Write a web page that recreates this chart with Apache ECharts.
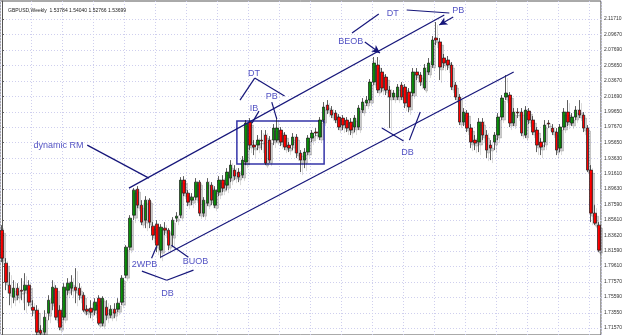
<!DOCTYPE html>
<html><head><meta charset="utf-8">
<script src="https://cdn.jsdelivr.net/npm/echarts@6/dist/echarts.min.js"></script>
<style>html,body{margin:0;padding:0;background:#fff;overflow:hidden}#c{width:625px;height:335px}</style>
</head><body><div id="c"></div>
<script>
const chartTitle = 'GBPUSD,Weekly  1.53784 1.54040 1.52766 1.53699';
const yTickLabels = ['2.11710','2.09670','2.07690','2.05650','2.03670','2.01690','1.99650','1.97670','1.95650','1.93630','1.91610','1.89630','1.87590','1.85610','1.83620','1.81590','1.79610','1.77570','1.75590','1.73550','1.71570'];
// weekly candles: [open, close, low, high]
const ohlc = [
[1.8428,1.8064,1.8012,1.8493],[1.7999,1.7752,1.7648,1.8064],[1.7713,1.7609,1.7453,1.7882],[1.7557,1.7674,1.7479,1.7778],
[1.7674,1.7583,1.7518,1.7739],[1.7648,1.7635,1.7518,1.7804],[1.7648,1.7713,1.7388,1.7869],[1.7713,1.7492,1.7440,1.7778],
[1.7427,1.7388,1.7310,1.7518],[1.7388,1.7102,1.7063,1.7453],[1.7128,1.7089,1.7050,1.7193],[1.7102,1.7297,1.7050,1.7388],
[1.7349,1.7518,1.7258,1.7583],[1.7479,1.7687,1.7388,1.7778],[1.7674,1.7297,1.7258,1.7713],[1.7388,1.7167,1.7128,1.7453],
[1.7297,1.7687,1.7258,1.7739],[1.7648,1.7739,1.7583,1.7804],[1.7674,1.7752,1.7583,1.7843],[1.7687,1.7648,1.7479,1.7934],
[1.7674,1.7583,1.7518,1.7739],[1.7583,1.7388,1.7362,1.7622],[1.7401,1.7375,1.7323,1.7453],[1.7414,1.7362,1.7284,1.7518],
[1.7388,1.7492,1.7323,1.7544],[1.7544,1.7219,1.7193,1.7583],[1.7219,1.7544,1.7180,1.7570],[1.7427,1.7323,1.7258,1.7518],
[1.7323,1.7401,1.7284,1.7453],[1.7401,1.7349,1.7284,1.7479],[1.7401,1.7479,1.7362,1.7544],[1.7492,1.7804,1.7453,1.7843],
[1.7843,1.8207,1.7804,1.8233],[1.8207,1.8584,1.8168,1.8623],[1.8623,1.8948,1.8558,1.8974],[1.8961,1.8753,1.8714,1.9000],
[1.8753,1.8532,1.8493,1.8818],[1.8558,1.8818,1.8454,1.8870],[1.8818,1.8532,1.8454,1.8844],[1.8480,1.8363,1.8298,1.8532],
[1.8506,1.8233,1.8142,1.8558],[1.8168,1.8467,1.8064,1.8506],[1.8454,1.8428,1.8363,1.8532],[1.8428,1.8233,1.8168,1.8454],
[1.8363,1.8558,1.8207,1.8597],[1.8584,1.8610,1.8532,1.8662],[1.8623,1.9078,1.8584,1.9117],[1.9078,1.8909,1.8870,1.9130],
[1.8909,1.8792,1.8740,1.8948],[1.8818,1.8857,1.8753,1.8909],[1.8857,1.9052,1.8818,1.9104],[1.9052,1.8649,1.8610,1.9078],
[1.8649,1.8818,1.8597,1.8857],[1.8779,1.9052,1.8740,1.9104],[1.9013,1.8818,1.8753,1.9052],[1.8753,1.8948,1.8714,1.9000],
[1.8922,1.9078,1.8870,1.9130],[1.9078,1.8974,1.8922,1.9143],[1.9013,1.9182,1.8948,1.9234],[1.9104,1.9273,1.9052,1.9338],
[1.9208,1.9130,1.9078,1.9273],[1.9182,1.9117,1.9052,1.9234],[1.9143,1.9338,1.9104,1.9390],[1.9312,1.9819,1.9273,1.9858],
[1.9832,1.9533,1.9468,1.9884],[1.9533,1.9507,1.9403,1.9598],[1.9533,1.9598,1.9468,1.9663],[1.9598,1.9585,1.9468,1.9728],
[1.9663,1.9299,1.9273,1.9728],[1.9598,1.9338,1.9299,1.9650],[1.9598,1.9754,1.9533,1.9806],[1.9598,1.9754,1.9572,1.9897],
[1.9728,1.9572,1.9520,1.9767],[1.9663,1.9507,1.9468,1.9702],[1.9533,1.9494,1.9442,1.9572],[1.9533,1.9637,1.9468,1.9689],
[1.9637,1.9429,1.9364,1.9676],[1.9429,1.9338,1.9182,1.9468],[1.9338,1.9442,1.9234,1.9494],[1.9442,1.9624,1.9403,1.9663],
[1.9624,1.9689,1.9572,1.9728],[1.9702,1.9689,1.9650,1.9754],[1.9637,1.9858,1.9598,1.9897],[1.9858,2.0027,1.9819,2.0092],
[2.0053,1.9988,1.9936,2.0118],[1.9988,1.9923,1.9884,2.0040],[1.9949,1.9858,1.9819,1.9988],[1.9897,1.9767,1.9728,1.9936],
[1.9884,1.9793,1.9728,1.9923],[1.9858,1.9754,1.9702,1.9897],[1.9832,1.9728,1.9663,1.9884],[1.9767,1.9884,1.9702,1.9923],
[1.9767,2.0014,1.9728,2.0053],[1.9988,2.0092,1.9949,2.0144],[2.0079,2.0118,2.0040,2.0170],[2.0118,2.0352,2.0079,2.0391],
[2.0352,2.0599,2.0313,2.0677],[2.0573,2.0248,2.0209,2.0677],[2.0482,2.0274,2.0222,2.0534],[2.0417,2.0248,2.0183,2.0456],
[2.0248,2.0157,1.9754,2.0300],[2.0157,2.0209,2.0118,2.0248],[2.0157,2.0287,2.0118,2.0326],[2.0313,2.0157,2.0118,2.0352],
[2.0287,2.0079,2.0014,2.0326],[2.0222,2.0027,1.9962,2.0274],[2.0209,2.0482,2.0170,2.0534],[2.0482,2.0443,2.0378,2.0534],
[2.0443,2.0352,2.0300,2.0482],[2.0274,2.0534,2.0248,2.0586],[2.0482,2.0599,2.0443,2.0664],[2.0573,2.0898,2.0534,2.0950],
[2.0924,2.0898,2.0833,2.1132],[2.0872,2.0547,2.0378,2.0924],[2.0664,2.0599,2.0534,2.0716],[2.0638,2.0573,2.0508,2.0690],
[2.0573,2.0287,2.0248,2.0612],[2.0313,2.0157,2.0118,2.0352],[2.0157,1.9832,1.9793,2.0196],[1.9832,1.9962,1.9780,2.0014],
[1.9949,1.9754,1.9702,1.9988],[1.9754,1.9572,1.9494,1.9806],[1.9598,1.9559,1.9468,1.9663],[1.9572,1.9832,1.9442,1.9884],
[1.9832,1.9663,1.9598,1.9884],[1.9663,1.9468,1.9364,1.9728],[1.9533,1.9494,1.9338,1.9598],[1.9572,1.9663,1.9468,1.9702],
[1.9663,1.9897,1.9598,1.9949],[1.9897,2.0144,1.9858,2.0183],[2.0157,2.0209,2.0118,2.0443],[2.0183,1.9819,1.9767,2.0222],
[1.9819,1.9962,1.9780,2.0014],[1.9962,1.9949,1.9884,2.0014],[1.9962,1.9689,1.9650,2.0014],[1.9663,1.9988,1.9624,2.0040],
[1.9975,1.9858,1.9806,2.0014],[1.9858,1.9702,1.9663,1.9910],[1.9728,1.9533,1.9442,1.9767],[1.9572,1.9507,1.9403,1.9624],
[1.9572,1.9793,1.9507,1.9858],[1.9819,1.9806,1.9754,1.9858],[1.9754,1.9702,1.9663,1.9806],[1.9702,1.9468,1.9403,1.9754],
[1.9494,1.9767,1.9442,1.9806],[1.9767,1.9962,1.9728,2.0014],[1.9962,1.9832,1.9780,2.0118],[1.9819,1.9897,1.9780,1.9949],
[1.9897,1.9988,1.9858,2.0040],[1.9988,1.9923,1.9884,2.0118],[1.9923,1.9754,1.9702,1.9962],[1.9754,1.9208,1.9182,1.9793],
[1.9208,1.8649,1.8532,1.9273],[1.8649,1.8519,1.8493,1.8753],[1.8493,1.8168,1.8142,1.8532]
];
// weekly category labels (first bar: week of 2005-09-11)
const categories = [];
{ const d0 = Date.UTC(2005, 8, 11); for (let i = 0; i < ohlc.length; i++) categories.push(new Date(d0 + i * 7 * 864e5).toISOString().slice(0, 10)); }

// annotation geometry in data space: [barIndex, price]
const annoLines = [
  [[32.75, 1.8974], [114.1, 2.1223]],   // upper channel
  [[40.9, 1.8077], [132.0, 2.0482]],    // lower channel
  [[22.0, 1.9533], [37.9, 1.9104]],     // dynamic RM pointer
  [[61.4, 2.0118], [65.2, 2.0404]],     // DT left leg
  [[65.2, 2.0404], [72.9, 2.0170]],     // DT right leg
  [[66.3, 1.9975], [64.5, 1.9819]],     // IB pointer
  [[69.6, 2.0092], [70.9, 1.9871]],     // PB pointer
  [[90.3, 2.0989], [97.2, 2.1236]],     // DT top left
  [[104.4, 2.1288], [115.4, 2.1249]],   // DT top right
  [[98.0, 1.9754], [103.6, 1.9585]],    // DB mid left
  [[107.9, 1.9962], [105.1, 1.9598]],   // DB mid right
  [[38.6, 1.8064], [39.9, 1.8220]],     // 2WPB pointer
  [[48.1, 1.8077], [43.7, 1.8233]],     // BUOB pointer
  [[36.1, 1.7895], [42.5, 1.7778]],     // DB bottom left
  [[42.5, 1.7778], [49.4, 1.7908]]      // DB bottom right
];
const annoArrows = [
  [[116.4, 2.1197], [112.8, 2.1093]],   // PB arrow
  [[93.6, 2.0872], [97.5, 2.0729]]      // BEOB arrow
];
const annoBox = [[60.6, 1.9845], [83.1, 1.9286]];
const annoTexts = [
  ['dynamic RM', 14.6, 1.9533], ['DT', 65.0, 2.0469], ['IB', 65.0, 2.0014], ['PB', 69.6, 2.0170],
  ['DT', 100.8, 2.1236], ['PB', 117.7, 2.1275], ['BEOB', 90.0, 2.0885], ['DB', 104.6, 1.9442],
  ['2WPB', 36.8, 1.7986], ['BUOB', 49.9, 1.8025], ['DB', 42.7, 1.7609]
];

const NAVY = '#16167a', BLUE = '#2626b4';
const chart = echarts.init(document.getElementById('c'), null, {renderer: 'canvas'});
const lineData = annoLines.map(s => [{coord: s[0]}, {coord: s[1]}]);
const arrowData = annoArrows.map(s => [{coord: s[0], symbol: 'none'}, {coord: s[1], symbol: 'arrow', symbolSize: [6, 8]}]);
chart.setOption({
  animation: false,
  backgroundColor: '#ffffff',
  textStyle: {fontFamily: 'Liberation Sans, Arial, sans-serif'},
  title: {text: chartTitle, left: 3, top: 3, textStyle: {fontSize: 5, fontWeight: 'normal', color: '#222'}},
  grid: {left: 0, right: 20, top: 1, bottom: 0, show: true, borderColor: '#555', borderWidth: 1},
  xAxis: [
    {type: 'category', data: categories, boundaryGap: true,
     axisLine: {show: false}, axisTick: {show: false}, axisLabel: {show: false},
     splitLine: {show: true, interval: 7, lineStyle: {color: '#cfcfee', width: 1, type: [1, 2]}}},
    {type: 'value', min: -0.5, max: ohlc.length - 0.5, show: false}
  ],
  yAxis: {
    type: 'value', position: 'right', min: 1.7066, max: 2.1405, scale: true,
    axisLine: {show: true, lineStyle: {color: '#555'}},
    axisTick: {show: true, length: 2, customValues: yTickLabels.map(Number), lineStyle: {color: '#555'}},
    axisLabel: {show: true, customValues: yTickLabels.map(Number), fontSize: 5, color: '#333', margin: 3,
      formatter: v => v.toFixed(5)},
    splitLine: {show: true, lineStyle: {color: '#cfcfee', width: 1, type: [1, 2]}}
  },
  series: [
    {type: 'candlestick', data: ohlc, xAxisIndex: 0, yAxisIndex: 0, barWidth: 3,
     itemStyle: {color: '#0b8f0b', color0: '#ff0000', borderColor: '#1a1a1a', borderColor0: '#1a1a1a', borderWidth: 0.7,
       shadowColor: 'rgba(0,0,0,0.2)', shadowOffsetX: 2, shadowOffsetY: 3, shadowBlur: 0}},
    {type: 'scatter', xAxisIndex: 1, yAxisIndex: 0, symbolSize: 1, silent: true,
     itemStyle: {color: 'rgba(0,0,0,0)'},
     data: annoTexts.map(t => ({name: t[0], value: [t[1], t[2]]})),
     label: {show: true, position: 'inside', formatter: '{b}', color: BLUE, fontSize: 9},
     markLine: {silent: true, symbol: ['none', 'none'], label: {show: false},
       lineStyle: {color: NAVY, width: 1.2, type: 'solid'}, data: lineData.concat(arrowData)},
     markArea: {silent: true, itemStyle: {color: 'rgba(0,0,0,0)', borderColor: '#3434a8', borderWidth: 1.5},
       data: [[{coord: annoBox[0]}, {coord: annoBox[1]}]]}
    }
  ]
});
</script></body></html>
